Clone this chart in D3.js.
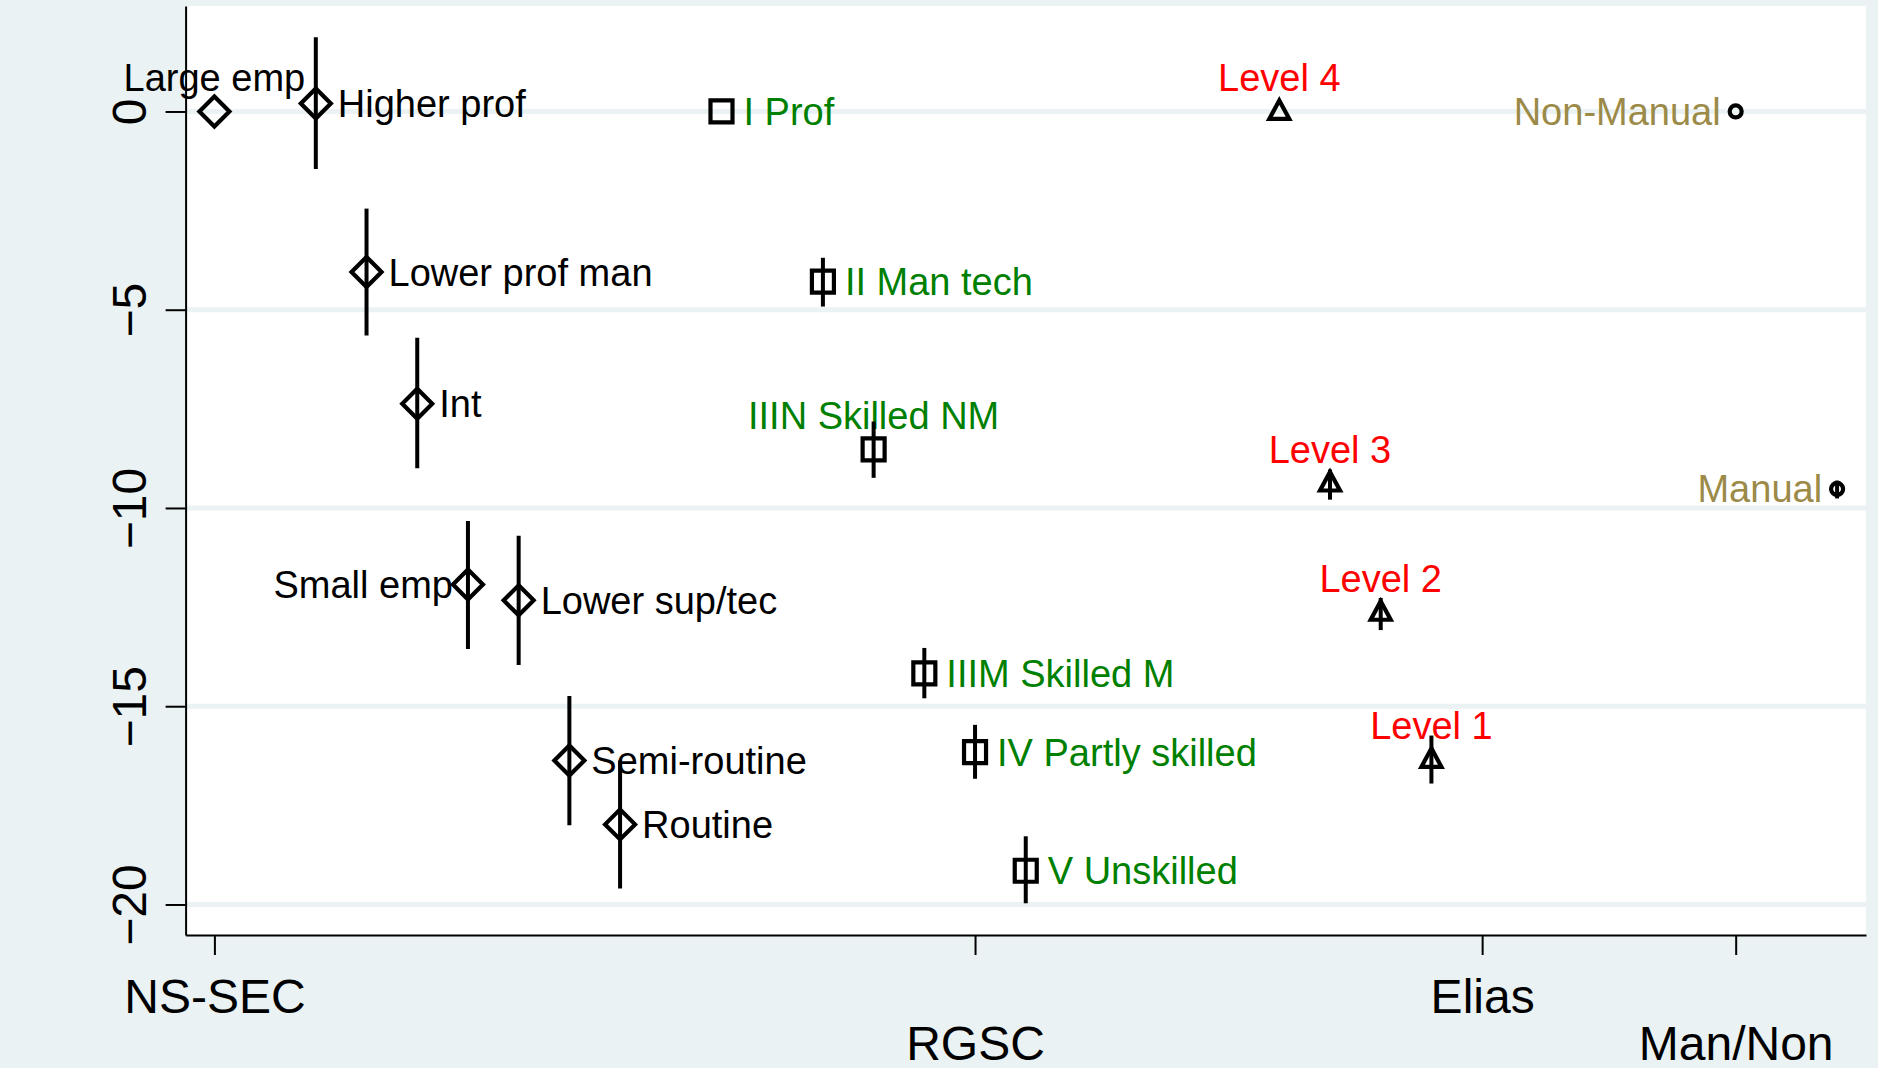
<!DOCTYPE html>
<html>
<head>
<meta charset="utf-8">
<script src="https://cdn.jsdelivr.net/npm/d3@7"></script>
<style>
  html, body { margin: 0; padding: 0; background: #eaf2f3; }
  svg { display: block; font-family: "Liberation Sans", Arial, sans-serif; }
</style>
</head>
<body>
<div class="chart"></div>
<script>
// NS-SEC classes
var nssecLabels = ["Large emp", "Higher prof", "Lower prof man", "Int", "Small emp", "Lower sup/tec", "Semi-routine", "Routine"];
var nssecX = [1, 3, 4, 5, 6, 7, 8, 9];
var nssecEst = [0, 0.2, -4.05, -7.37, -11.93, -12.33, -16.37, -17.98];
var nssecLo = [0, -1.45, -5.65, -9.0, -13.56, -13.96, -18.0, -19.6];
var nssecHi = [0, 1.87, -2.45, -5.71, -10.33, -10.7, -14.74, -16.37];

// RGSC
var rgscLabels = ["I Prof", "II Man tech", "IIIN Skilled NM", "IIIM Skilled M", "IV Partly skilled", "V Unskilled"];
var rgscX = [11, 13, 14, 15, 16, 17];
var rgscEst = [0, -4.29, -8.52, -14.17, -16.16, -19.15];
var rgscLo = [0, -4.92, -9.24, -14.8, -16.83, -19.97];
var rgscHi = [0, -3.69, -7.82, -13.53, -15.47, -18.28];

// Elias levels
var eliasLabels = ["Level 4", "Level 3", "Level 2", "Level 1"];
var eliasX = [22, 23, 24, 25];
var eliasEst = [0, -9.37, -12.63, -16.34];
var eliasLo = [0, -9.79, -13.08, -16.95];
var eliasHi = [0, -9.03, -12.27, -15.74];

// manual / non-manual
var manLabels = ["Non-Manual", "Manual"];
var manX = [31, 33];
var manEst = [0, -9.52];
var manLo = [0, -9.76];
var manHi = [0, -9.31];

// axis ticks
var xTickVals = [1, 16, 26, 31];
var xTickLabels = ["NS-SEC", "RGSC", "Elias", "Man/Non"];
var yTickVals = [0, -5, -10, -15, -20];

// label clock positions (12 = above, 3 = right, 9 = left)
var nssecLabPos = [12, 3, 3, 3, 9, 3, 3, 3];
var rgscLabPos = [3, 3, 12, 3, 3, 3];
var eliasLabPos = [12, 12, 12, 12];
var manLabPos = [9, 9];

var W = 1878, H = 1068;
var plotL = 185.6, plotR = 1866, plotT = 6, plotB = 935;

var x = d3.scaleLinear().domain([0.432, 33.57]).range([plotL, plotR]);
var y = d3.scaleLinear().domain([-20.77, 2.66]).range([plotB, plotT]);

var svg = d3.select(".chart").append("svg")
  .attr("width", W).attr("height", H);

svg.append("rect").attr("width", W).attr("height", H).attr("fill", "#eaf2f3");
svg.append("rect")
  .attr("x", plotL).attr("y", plotT)
  .attr("width", plotR - plotL).attr("height", plotB - plotT)
  .attr("fill", "#fff");

// grid
svg.append("g").selectAll("line")
  .data(yTickVals).enter().append("line")
  .attr("x1", plotL).attr("x2", plotR)
  .attr("y1", d => y(d)).attr("y2", d => y(d))
  .attr("stroke", "#eaf2f3").attr("stroke-width", 5);

function build(labels, xs, est, lo, hi, pos) {
  return labels.map((l, i) => ({label: l, x: xs[i], est: est[i], lo: lo[i], hi: hi[i], pos: pos[i]}));
}

var groups = [
  {data: build(nssecLabels, nssecX, nssecEst, nssecLo, nssecHi, nssecLabPos), shape: "diamond", color: "#000"},
  {data: build(rgscLabels, rgscX, rgscEst, rgscLo, rgscHi, rgscLabPos), shape: "square", color: "#008000"},
  {data: build(eliasLabels, eliasX, eliasEst, eliasLo, eliasHi, eliasLabPos), shape: "triangle", color: "#ff0000"},
  {data: build(manLabels, manX, manEst, manLo, manHi, manLabPos), shape: "circle", color: "#9c8a48"}
];

var shapes = {
  diamond: "M0,-15L15,0L0,15L-15,0Z",
  square: "M-11,-11H11V11H-11Z",
  triangle: "M0,-11L10,7.5H-10Z",
  circle: "M6,0A6,6 0 1,1 -6,0A6,6 0 1,1 6,0Z"
};

groups.forEach(g => {
  // labels
  svg.append("g").selectAll("text")
    .data(g.data).enter().append("text")
    .attr("x", d => d.pos == 3 ? x(d.x) + 22 : d.pos == 9 ? x(d.x) - 15 : x(d.x))
    .attr("y", d => d.pos == 12 ? y(d.est) - 20 : y(d.est) + 13.5)
    .attr("text-anchor", d => d.pos == 3 ? "start" : d.pos == 9 ? "end" : "middle")
    .attr("font-size", 38)
    .attr("fill", g.color)
    .text(d => d.label);

  // confidence intervals
  svg.append("g").selectAll("line")
    .data(g.data.filter(d => d.hi > d.lo)).enter().append("line")
    .attr("x1", d => x(d.x)).attr("x2", d => x(d.x))
    .attr("y1", d => y(d.lo)).attr("y2", d => y(d.hi))
    .attr("stroke", "#000").attr("stroke-width", 4);

  // markers
  svg.append("g").selectAll("path")
    .data(g.data).enter().append("path")
    .attr("transform", d => "translate(" + x(d.x) + "," + y(d.est) + ")")
    .attr("d", shapes[g.shape])
    .attr("fill", "none")
    .attr("stroke", "#000")
    .attr("stroke-width", 4.2);
});

// y axis
var yAxis = svg.append("g")
  .attr("transform", "translate(" + plotL + ",0)")
  .call(d3.axisLeft(y).tickValues(yTickVals).tickSize(20).tickSizeOuter(0).tickFormat(d3.format("d")));
yAxis.selectAll("text")
  .attr("transform", "rotate(-90)")
  .attr("x", 0).attr("y", -39.6).attr("dy", 0)
  .attr("text-anchor", "middle")
  .attr("font-size", 48)
  .attr("font-family", "Liberation Sans, Arial, sans-serif")
  .attr("fill", "#000");

// x axis
var xAxis = svg.append("g")
  .attr("transform", "translate(0," + plotB + ")")
  .call(d3.axisBottom(x).tickValues(xTickVals).tickSize(20).tickSizeOuter(0)
    .tickFormat((d, i) => xTickLabels[i]));
xAxis.selectAll("text")
  .attr("y", (d, i) => i % 2 == 0 ? 78 : 125)
  .attr("dy", 0)
  .attr("font-size", 48)
  .attr("font-family", "Liberation Sans, Arial, sans-serif")
  .attr("fill", "#000");

[yAxis, xAxis].forEach(a => {
  a.selectAll("path.domain").attr("stroke", "#000").attr("stroke-width", 2);
  a.selectAll(".tick line").attr("stroke", "#000").attr("stroke-width", 2);
});
</script>
</body>
</html>
